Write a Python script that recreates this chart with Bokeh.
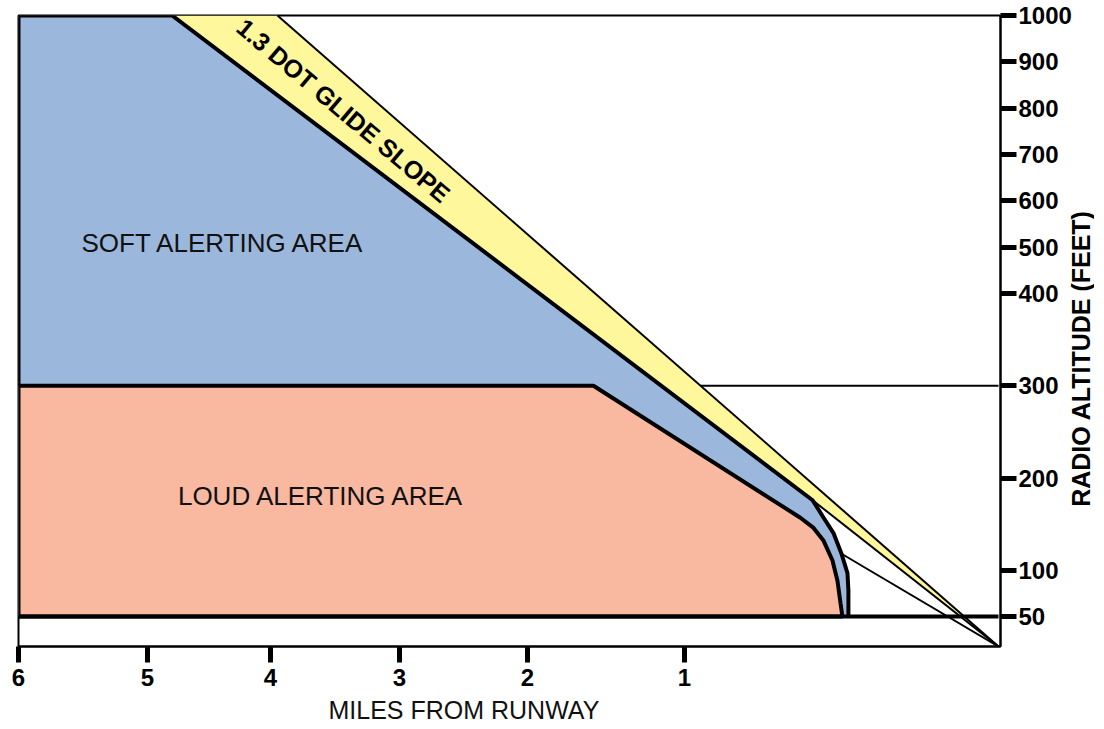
import numpy as np
from bokeh.plotting import figure
from bokeh.layouts import row
from bokeh.models import Range1d, FixedTicker, Title
from bokeh.core.properties import value
from bokeh.embed import file_html
from bokeh.resources import INLINE

# ---------------- data (miles from runway, radio altitude in feet) ----------------
x_tick_miles = [6, 5, 4, 3, 2, 1]
y_tick_feet = [1000, 900, 800, 700, 600, 500, 400, 300, 200, 100, 50]

# upper boundary of the soft alerting area (thick line + rounded end)
soft_miles = [6.0, 4.80, 0.592, 0.557, 0.525, 0.500, 0.481, 0.478, 0.478]
soft_feet = [1000, 1000, 176, 157, 140, 118, 97, 78, 50]

# upper boundary of the loud alerting area
loud_miles = [6.0, 1.580, 0.631, 0.589, 0.557, 0.529, 0.513, 0.503, 0.497]
loud_feet = [300, 300, 157, 146, 132, 111, 89, 64, 50]

# glide slope band (upper line, lower line) and inner limit line
glide_upper_miles = [3.946, 0.0]
glide_upper_feet = [1000, 0]
glide_lower_miles = [0.592, 0.0]
glide_lower_feet = [176, 0]
inner_miles = [0.500, 0.0]
inner_feet = [118, 0]

floor_feet = 50
mode_change_feet = 300

# ---------------- axis scale (non-linear, piecewise) ----------------
X_BREAK_MILES = [0, 1, 2, 3, 4, 5, 6]
X_BREAK_POS = [980, 666, 509, 381, 252, 129, 0]
Y_BREAK_FEET = [0, 50, 400, 1000]
Y_BREAK_POS = [0, 30, 353, 631]


def sx(m):
    return np.interp(np.asarray(m, dtype=float), X_BREAK_MILES, X_BREAK_POS)


def sy(f):
    return np.interp(np.asarray(f, dtype=float), Y_BREAK_FEET, Y_BREAK_POS)


FONT = "Liberation Sans"
BLUE = "#9BB8DC"
YELLOW = "#FFF79B"
SALMON = "#F9B8A0"

p = figure(frame_width=982, frame_height=631,
           x_range=Range1d(0, 982), y_range=Range1d(0, 631),
           output_backend="svg", toolbar_location=None,
           y_axis_location="right",
           min_border_left=18, min_border_right=72,
           min_border_top=15, min_border_bottom=80,
           background_fill_color="white", border_fill_color="white",
           outline_line_color="black", outline_line_width=2)
p.grid.visible = False

# x axis
xt = [int(round(v)) for v in sx(x_tick_miles)]
xa = p.xaxis[0]
xa.ticker = FixedTicker(ticks=xt)
xa.major_label_overrides = {t: str(m) for t, m in zip(xt, x_tick_miles)}
xa.major_tick_out = 16
xa.major_tick_in = 0
xa.major_tick_line_width = 5
xa.minor_tick_line_color = None
xa.axis_line_width = 2
xa.major_label_standoff = 6
xa.major_label_text_font = FONT
xa.major_label_text_font_style = "bold"
xa.major_label_text_font_size = "24px"
xa.major_label_text_color = "black"

# y axis (right)
yt = [int(round(v)) for v in sy(y_tick_feet)]
ya = p.yaxis[0]
ya.ticker = FixedTicker(ticks=yt)
ya.major_label_overrides = {t: str(f) for t, f in zip(yt, y_tick_feet)}
ya.major_tick_out = 16
ya.major_tick_in = 0
ya.major_tick_line_width = 5
ya.minor_tick_line_color = None
ya.axis_line_width = 2
ya.major_label_standoff = 2
ya.major_label_text_font = FONT
ya.major_label_text_font_style = "bold"
ya.major_label_text_font_size = "24px"
ya.major_label_text_color = "black"

# x axis title (offset towards the left, as in the original)
p.add_layout(Title(text="MILES FROM RUNWAY", align="left", offset=310, standoff=10,
                   text_font=FONT, text_font_style="normal", text_font_size="25px",
                   text_color="#111111"), "below")

# 300 ft reference line (under the areas)
p.line(sx([6, 0]), sy([mode_change_feet, mode_change_feet]), line_color="black", line_width=2)

# soft alerting area (blue)
p.patch(np.append(sx(soft_miles), sx(6)), np.append(sy(soft_feet), sy(floor_feet)),
        fill_color=BLUE, line_color=None)

# glide slope band (yellow)
gx = list(sx([soft_miles[1]])) + list(sx(glide_upper_miles)) + list(sx([soft_miles[2]]))
gy = list(sy([soft_feet[1]])) + list(sy(glide_upper_feet)) + list(sy([soft_feet[2]]))
p.patch(gx, gy, fill_color=YELLOW, line_color=None)

# thin lines
p.line(sx(glide_upper_miles), sy(glide_upper_feet), line_color="black", line_width=2)
p.line(sx(glide_lower_miles), sy(glide_lower_feet), line_color="black", line_width=2)
p.line(sx(inner_miles), sy(inner_feet), line_color="black", line_width=2)

# loud alerting area (salmon) with thick outline
p.patch(np.append(sx(loud_miles), sx(6)), np.append(sy(loud_feet), sy(floor_feet)),
        fill_color=SALMON, line_color="black", line_width=4)

# thick boundary of soft area
p.line(np.insert(sx(soft_miles), 0, sx(6)), np.insert(sy(soft_feet), 0, sy(mode_change_feet)),
       line_color="black", line_width=4)

# 50 ft floor line
p.line(sx([6, 0]), sy([floor_feet, floor_feet]), line_color="black", line_width=4)

# area labels
p.text(x=sx([4.382, 3.605]), y=sy([510, 181]),
       text=["SOFT ALERTING AREA", "LOUD ALERTING AREA"],
       text_font=value(FONT), text_font_size="26px", text_color="#111111",
       text_align="center", text_baseline="middle")
p.text(x=sx([3.434]), y=sy([795]), text=["1.3 DOT GLIDE SLOPE"],
       text_font=value(FONT), text_font_size="25px", text_font_style="bold",
       text_color="black", angle=-0.70,
       text_align="center", text_baseline="middle")

# right-hand strip carrying the vertical axis title (reads bottom to top)
q = figure(frame_width=28, frame_height=631,
           x_range=Range1d(0, 28), y_range=Range1d(0, 631),
           output_backend="svg", toolbar_location=None,
           x_axis_location=None, y_axis_location=None,
           min_border_left=0, min_border_right=0,
           min_border_top=15, min_border_bottom=80,
           background_fill_color=None, border_fill_color=None,
           outline_line_color=None)
q.margin = (0, 0, 0, -8)
q.grid.visible = False
q.text(x=[14], y=[288], text=["RADIO ALTITUDE (FEET)"],
       text_font=value(FONT), text_font_size="25px", text_font_style="bold",
       text_color="black", angle=np.pi / 2,
       text_align="center", text_baseline="middle")

layout = row(p, q)
open("out.html", "w").write(file_html(layout, INLINE))
